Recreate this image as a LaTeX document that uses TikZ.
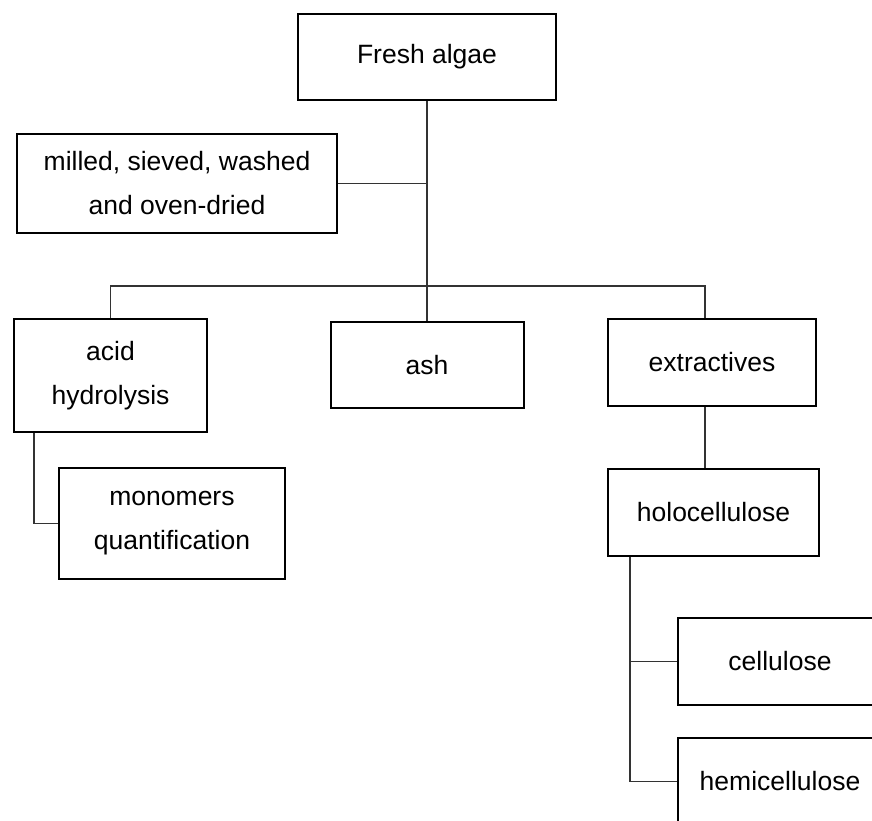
\documentclass[tikz,border=0pt]{standalone}
\usepackage{fontspec}
\setmainfont{Liberation Sans}
\usetikzlibrary{calc}

\begin{document}
\begin{tikzpicture}[
    x=1pt, y=-1pt,
    font=\fontsize{26.5}{44}\selectfont,
    stagebox/.style={
        draw=black,
        line width=2pt,
        align=center,
        fill=white,
        inner sep=0pt
    },
    link/.style={
        line width=1.3pt,
        draw=black!80
    }
]

% ---------------------------------------------------------
% Canvas
% ---------------------------------------------------------
\path[use as bounding box] (0,0) rectangle (872,820);
\clip (0,0) rectangle (872,820);

% ---------------------------------------------------------
% Boxes
% ---------------------------------------------------------
\node[stagebox, minimum width=258pt, minimum height=86pt]
    (fresh) at (427,57) {Fresh algae};

\node[stagebox, minimum width=320pt, minimum height=99pt]
    (milled) at (177,183.5) {milled, sieved, washed\\and oven-dried};

\node[stagebox, minimum width=193pt, minimum height=113pt]
    (acid) at (110.5,375.5) {acid\\hydrolysis};

\node[stagebox, minimum width=226pt, minimum height=111pt]
    (mono) at (172,523.5) {monomers\\quantification};

\node[stagebox, minimum width=193pt, minimum height=86pt]
    (ash) at (427,365) {ash};

\node[stagebox, minimum width=208pt, minimum height=87pt]
    (extr) at (712,362.5) {extractives};

\node[stagebox, minimum width=211pt, minimum height=87pt]
    (holo) at (713.5,512.5) {holocellulose};

\node[stagebox, minimum width=204pt, minimum height=87pt]
    (cell) at (780,661.5) {cellulose};

\node[stagebox, minimum width=204pt, minimum height=87pt]
    (hemi) at (780,781.5) {hemicellulose};

% ---------------------------------------------------------
% Connectors
% ---------------------------------------------------------
\coordinate (split) at (427,286);
\coordinate (acidcol) at (34,0);
\coordinate (extrcol) at (705,0);
\coordinate (holocol) at (630,0);

\draw[link] (fresh.south) -- (ash.north);
\draw[link] (milled.east) -- (milled.east -| fresh.south);
\draw[link] (acid.north) |- (split);
\draw[link] (split) -| (extrcol |- extr.north);

\draw[link] (acidcol |- acid.south) |- (mono.west);
\draw[link] (extrcol |- extr.south) -- (extrcol |- holo.north);

\draw[link] (holocol |- holo.south) |- (hemi.west);
\draw[link] (holocol |- cell.west) -- (cell.west);

\end{tikzpicture}
\end{document}
